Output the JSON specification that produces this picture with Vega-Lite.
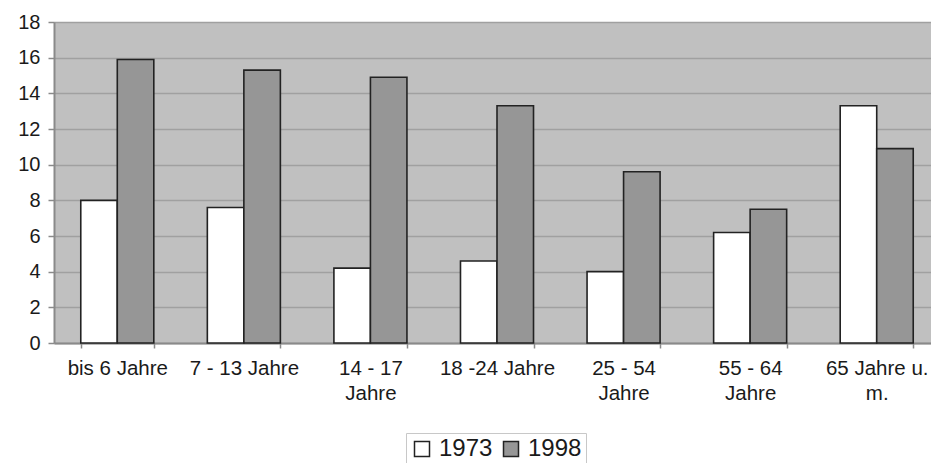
{
  "$schema": "https://vega.github.io/schema/vega-lite/v6.json",
  "autosize": {"type": "none"},
  "padding": {"left": 54, "top": 22, "right": 0, "bottom": 120},
  "width": 886,
  "height": 321,
  "background": "white",
  "config": {
    "font": "Liberation Sans",
    "view": {"fill": "#c0c0c0", "stroke": null},
    "axis": {"labelFont": "Liberation Sans", "labelColor": "#1a1a1a", "titleFont": "Liberation Sans"}
  },
  "data": {
    "values": [
      {"gruppe": "bis 6 Jahre", "jahr": "1973", "wert": 8.0},
      {"gruppe": "bis 6 Jahre", "jahr": "1998", "wert": 15.9},
      {"gruppe": "7 - 13 Jahre", "jahr": "1973", "wert": 7.6},
      {"gruppe": "7 - 13 Jahre", "jahr": "1998", "wert": 15.3},
      {"gruppe": "14 - 17 Jahre", "jahr": "1973", "wert": 4.2},
      {"gruppe": "14 - 17 Jahre", "jahr": "1998", "wert": 14.9},
      {"gruppe": "18 -24 Jahre", "jahr": "1973", "wert": 4.6},
      {"gruppe": "18 -24 Jahre", "jahr": "1998", "wert": 13.3},
      {"gruppe": "25 - 54 Jahre", "jahr": "1973", "wert": 4.0},
      {"gruppe": "25 - 54 Jahre", "jahr": "1998", "wert": 9.6},
      {"gruppe": "55 - 64 Jahre", "jahr": "1973", "wert": 6.2},
      {"gruppe": "55 - 64 Jahre", "jahr": "1998", "wert": 7.5},
      {"gruppe": "65 Jahre u. m.", "jahr": "1973", "wert": 13.3},
      {"gruppe": "65 Jahre u. m.", "jahr": "1998", "wert": 10.9}
    ]
  },
  "mark": {"type": "bar", "stroke": "#222222", "strokeWidth": 1.6, "opacity": 1},
  "encoding": {
    "x": {
      "field": "gruppe",
      "type": "nominal",
      "sort": null,
      "scale": {"paddingInner": 0.423, "paddingOuter": 0.2115},
      "axis": {
        "title": null,
        "labelAngle": 0,
        "labelFontSize": 20.5,
        "labelLineHeight": 25,
        "labelPadding": 10,
        "tickSize": 5,
        "tickBand": "extent",
        "tickColor": "#8a8a8a",
        "tickWidth": 1.5,
        "domainColor": "#8a8a8a",
        "domainWidth": 2,
        "grid": false,
        "labelExpr": "datum.label == '14 - 17 Jahre' ? ['14 - 17', 'Jahre'] : datum.label == '25 - 54 Jahre' ? ['25 - 54', 'Jahre'] : datum.label == '55 - 64 Jahre' ? ['55 - 64', 'Jahre'] : datum.label == '65 Jahre u. m.' ? ['65 Jahre u.', 'm.'] : datum.label"
      }
    },
    "xOffset": {"field": "jahr", "type": "nominal", "scale": {"paddingInner": 0, "paddingOuter": 0}},
    "y": {
      "field": "wert",
      "type": "quantitative",
      "scale": {"domain": [0, 18], "nice": false},
      "axis": {
        "title": null,
        "values": [0, 2, 4, 6, 8, 10, 12, 14, 16, 18],
        "labelFontSize": 20,
        "labelPadding": 8,
        "tickSize": 6,
        "tickColor": "#8a8a8a",
        "tickWidth": 1.5,
        "domainColor": "#8a8a8a",
        "domainWidth": 2,
        "gridColor": "#a0a0a0",
        "gridWidth": 1.5
      }
    },
    "color": {
      "field": "jahr",
      "type": "nominal",
      "scale": {"domain": ["1973", "1998"], "range": ["#ffffff", "#969696"]},
      "legend": {
        "title": null,
        "orient": "none",
        "legendX": 352,
        "legendY": 411,
        "direction": "horizontal",
        "symbolType": "square",
        "symbolSize": 225,
        "symbolStrokeColor": "#222222",
        "symbolStrokeWidth": 1.5,
        "symbolOpacity": 1,
        "labelFontSize": 24,
        "labelFont": "Liberation Sans",
        "labelColor": "#1a1a1a",
        "labelOffset": 5,
        "columnPadding": 6,
        "strokeColor": "#c8c8c8",
        "fillColor": "white",
        "padding": 4
      }
    }
  }
}
